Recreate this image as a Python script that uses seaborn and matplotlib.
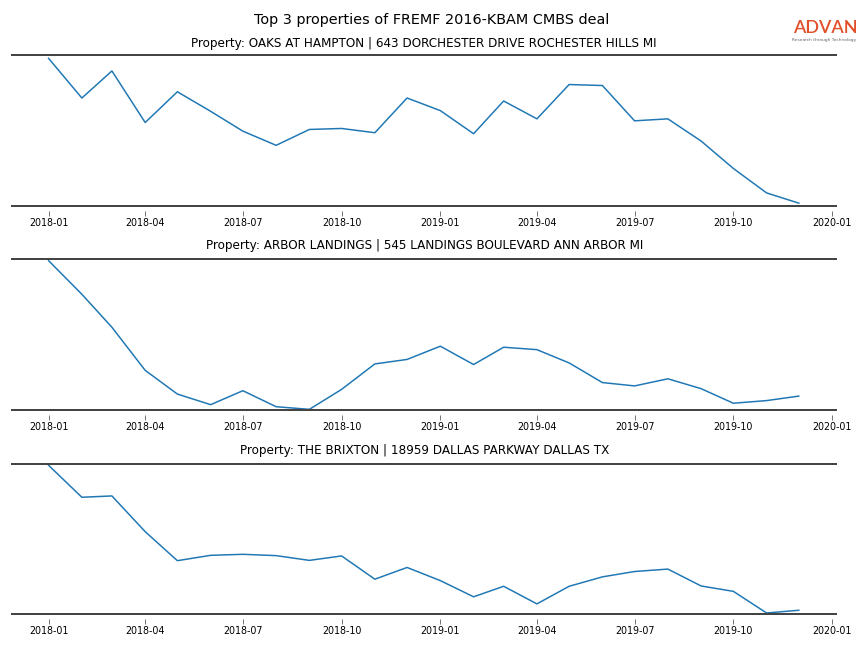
import pandas as pd
import seaborn as sns
import matplotlib.pyplot as plt
import matplotlib.dates as mdates

# monthly index per property, 2018-01 .. 2019-12
months = pd.date_range('2018-01-01', '2019-12-01', freq='MS')

titles = [
    'Property: OAKS AT HAMPTON | 643 DORCHESTER DRIVE ROCHESTER HILLS MI',
    'Property: ARBOR LANDINGS | 545 LANDINGS BOULEVARD ANN ARBOR MI',
    'Property: THE BRIXTON | 18959 DALLAS PARKWAY DALLAS TX',
]

oaks = [148.7, 108.7, 136.0, 84.0, 115.0, 95.3, 75.3, 61.0, 77.0, 78.0, 73.7, 108.7,
        96.0, 72.7, 105.7, 87.7, 122.3, 121.3, 85.7, 87.7, 65.3, 37.7, 13.0, 2.7]
arbor = [146.7, 113.7, 81.3, 39.0, 15.7, 5.3, 19.0, 3.3, 0.7, 20.3, 45.3, 49.7,
         62.7, 44.7, 61.7, 59.3, 46.3, 27.0, 23.7, 30.7, 21.0, 6.7, 9.3, 13.7]
brixton = [147.3, 115.7, 117.0, 81.7, 53.0, 58.3, 59.3, 58.0, 53.3, 57.7, 34.7, 46.3,
           33.3, 17.3, 27.7, 10.3, 27.7, 37.0, 42.3, 44.7, 28.0, 22.7, 1.3, 4.0]

series = [oaks, arbor, brixton]
ytops = [152, 148, 149]

fig, axes = plt.subplots(3, 1, figsize=(12, 9), dpi=72)
plt.subplots_adjust(left=0.014, right=0.968, top=0.915, bottom=0.052, hspace=0.355)

for i, (ax, vals, title, ytop) in enumerate(zip(axes, series, titles, ytops)):
    df = pd.DataFrame({'date': months, 'value': vals})
    sns.lineplot(x='date', y='value', data=df, ax=ax, color='#1f77b4', linewidth=1.5)
    ax.set_title(title, fontsize=12, pad=8 if i == 0 else 10)
    ax.set_xlim(pd.Timestamp('2017-11-28'), pd.Timestamp('2020-01-05'))
    ax.set_ylim(0, ytop)
    ax.set_xlabel('')
    ax.set_ylabel('')
    ax.set_yticks([])
    ax.xaxis.set_major_locator(mdates.MonthLocator(bymonth=[1, 4, 7, 10]))
    ax.xaxis.set_major_formatter(mdates.DateFormatter('%Y-%m'))
    ax.tick_params(axis='x', labelsize=9.5, color='#555555', length=5, pad=2)
    for side in ['left', 'right']:
        ax.spines[side].set_visible(False)
    ax.spines['top'].set_color('#444444')
    ax.spines['top'].set_linewidth(2)
    # ticks sit a little below the frame line
    ax.spines['bottom'].set_position(('outward', 5))
    ax.spines['bottom'].set_visible(False)
    ax.axhline(0, color='#444444', linewidth=2, clip_on=False)

fig.suptitle('Top 3 properties of FREMF 2016-KBAM CMBS deal', fontsize=14.4, y=0.98)

# logo
fig.text(0.9925, 0.944, 'ADVAN', fontsize=18, color='#e2502b', ha='right', va='bottom',
         family='Lato', weight='semibold')
fig.text(0.9915, 0.942, 'Research through Technology', fontsize=4.4, color='#666666',
         ha='right', va='top')

plt.savefig('out.png', dpi=72)
